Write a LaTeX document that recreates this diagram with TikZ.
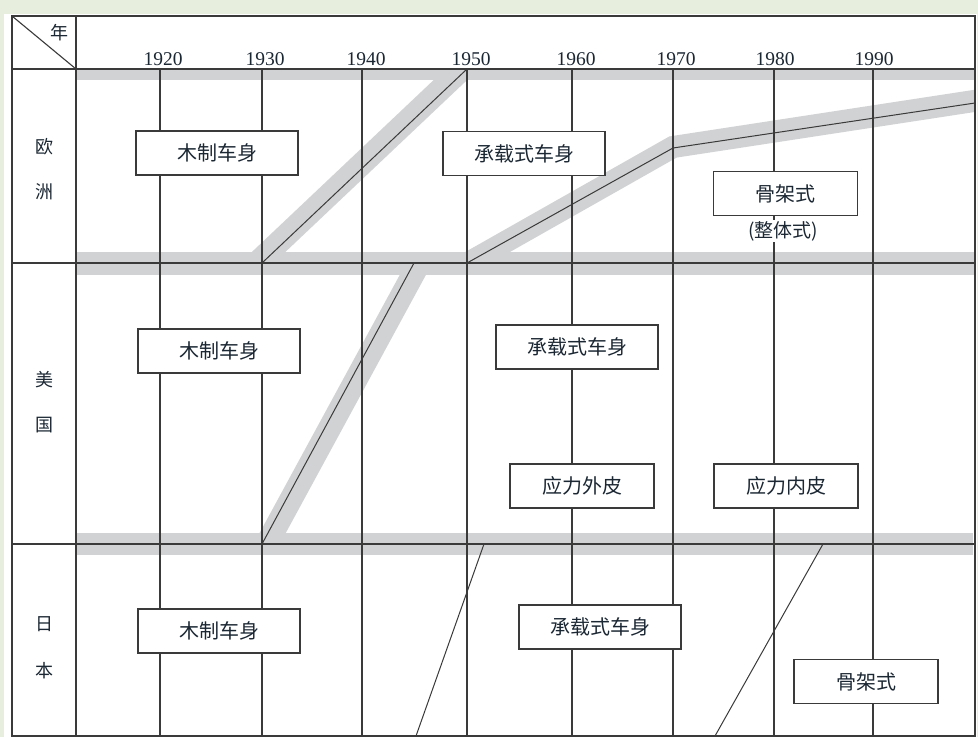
\documentclass[tikz,border=0pt]{standalone}
\usepackage{fontspec}
\setmainfont{Liberation Serif}
\newfontfamily\cjk{Noto Sans CJK SC}
\definecolor{framebg}{HTML}{E8EEDD}
\definecolor{bandgray}{HTML}{D1D2D4}
\definecolor{ln}{HTML}{3A3A3A}
\definecolor{txt}{HTML}{1B2733}
\begin{document}
\begin{tikzpicture}[x=1pt,y=-1pt,
  grid/.style={draw=ln,line width=1.1pt},
  bandline/.style={draw=bandgray,line width=23pt},
  trans/.style={draw=ln,line width=1pt},
  stagebox/.style={draw=ln,line width=1.1pt,fill=white,minimum width=162pt,minimum height=44pt,inner sep=0pt,font=\cjk\fontsize{20}{20}\selectfont,text=txt},
  shortbox/.style={stagebox,minimum width=144pt},
  yearlbl/.style={font=\fontsize{19.5}{19.5}\selectfont,text=txt,inner sep=0pt},
  rowlbl/.style={font=\cjk\fontsize{18}{18}\selectfont,text=txt,inner sep=0pt}]
\useasboundingbox (0,0) rectangle (978,737);
\fill[framebg] (0,0) rectangle (978,737);
\fill[white] (4,14) rectangle (977,737);
% horizontal bands
\fill[bandgray] (76,69) rectangle (975,80);
\fill[bandgray] (76,252) rectangle (975,275);
\fill[bandgray] (76,533) rectangle (973,555);
% diagonal bands, Europe
\begin{scope}
\clip (76,69) rectangle (975,263);
\draw[bandline] (239,280) -- (480,52);
\draw[bandline,line width=22pt] (447,275) -- (673,147) -- (1000,97);
\end{scope}
% diagonal band, USA
\begin{scope}
\clip (76,263) rectangle (975,544);
\draw[bandline] (258,560) -- (428,247);
\end{scope}
% grid
\coordinate (TL) at (12,16);
\coordinate (BR) at (975,736);
\coordinate (HC) at (76,69);
\draw[grid] (TL) rectangle (BR);
\draw[grid] (12,69) -- (975,69);
\draw[grid] (12,263) -- (975,263);
\draw[grid] (12,544) -- (975,544);
\draw[grid] (76,16) -- (76,736);
\draw[grid] (TL) -- (HC);
\foreach \x/\yr/\dx in {160/1920/3,262/1930/3,362/1940/4,467/1950/4,572/1960/4,673/1970/3,774/1980/1,873/1990/1}{
  \draw[grid] (\x,69) -- (\x,736);
  \node[yearlbl] at (\x+\dx,59) {\yr};
}
\node[rowlbl] (nian) at (59,33) {年};
% transition lines
\coordinate (e1a) at (262,263); \coordinate (e1b) at (467,69);
\draw[trans] (e1a) -- (e1b);
\coordinate (e2a) at (467,263); \coordinate (e2b) at (673,148); \coordinate (e2c) at (975,103);
\draw[trans] (e2a) -- (e2b) -- (e2c);
\coordinate (u1a) at (262,544); \coordinate (u1b) at (414,263);
\draw[trans] (u1a) -- (u1b);
\coordinate (j1a) at (484,544); \coordinate (j1b) at (416,736);
\draw[trans] (j1a) -- (j1b);
\coordinate (j2a) at (823,544); \coordinate (j2b) at (715,736);
\draw[trans] (j2a) -- (j2b);
% row labels
\node[rowlbl] (ou) at (44,147) {欧};
\node[rowlbl] (zhou) at (44,192) {洲};
\node[rowlbl] (mei) at (44,380) {美};
\node[rowlbl] (guo) at (44,425) {国};
\node[rowlbl] (ri) at (44,624) {日};
\node[rowlbl] (ben) at (44,671) {本};
% boxes
\node[stagebox] (eWood) at (217,153) {木制车身};
\node[stagebox] (eMono) at (524,153.5) {承载式车身};
\node[shortbox] (eFrame) at (785.5,193.5) {骨架式};
\node[rowlbl,font=\cjk\fontsize{19}{19}\selectfont,fill=white,inner sep=1pt] (eFrameNote) at (783,231) {(整体式)};
\node[stagebox] (uWood) at (219,351) {木制车身};
\node[stagebox] (uMono) at (577,347) {承载式车身};
\node[shortbox] (uOuter) at (582,486) {应力外皮};
\node[shortbox] (uInner) at (786,486) {应力内皮};
\node[stagebox] (jWood) at (219,631) {木制车身};
\node[stagebox] (jMono) at (600,627) {承载式车身};
\node[shortbox] (jFrame) at (866,681.5) {骨架式};
\end{tikzpicture}
\end{document}
